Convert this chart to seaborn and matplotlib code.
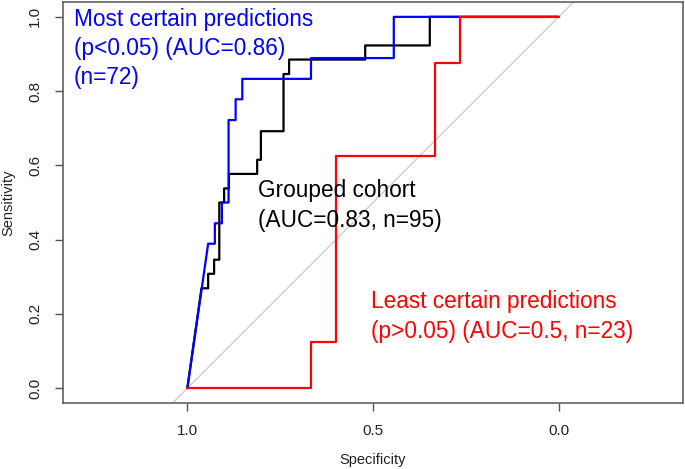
import pandas as pd
import matplotlib
matplotlib.use("Agg")
import matplotlib.pyplot as plt
import seaborn as sns

# ROC points (specificity, sensitivity)
grouped_spec = [1.0, 0.962, 0.944, 0.944, 0.928, 0.928, 0.914, 0.914, 0.901, 0.901,
                0.888, 0.888, 0.812, 0.812, 0.802, 0.802, 0.741, 0.741, 0.726, 0.726,
                0.521, 0.521, 0.347, 0.347, 0.0]
grouped_sens = [0.0, 0.269, 0.269, 0.308, 0.308, 0.346, 0.346, 0.5, 0.5, 0.538,
                0.538, 0.577, 0.577, 0.615, 0.615, 0.692, 0.692, 0.846, 0.846, 0.885,
                0.885, 0.923, 0.923, 1.0, 1.0]

most_spec = [1.0, 0.944, 0.926, 0.926, 0.907, 0.907, 0.889, 0.889, 0.870, 0.870,
             0.852, 0.852, 0.667, 0.667, 0.444, 0.444, 0.0]
most_sens = [0.0, 0.389, 0.389, 0.444, 0.444, 0.5, 0.5, 0.722, 0.722, 0.778,
             0.778, 0.833, 0.833, 0.889, 0.889, 1.0, 1.0]

least_spec = [1.0, 0.667, 0.667, 0.6, 0.6, 0.333, 0.333, 0.267, 0.267, 0.0]
least_sens = [0.0, 0.0, 0.125, 0.125, 0.625, 0.625, 0.875, 0.875, 1.0, 1.0]

curve_names = ["grouped", "most", "least"]
curve_colors = {"grouped": "black", "most": "blue", "least": "red"}
curve_labels = {
    "grouped": "Grouped cohort\n(AUC=0.83, n=95)",
    "most": "Most certain predictions\n(p<0.05) (AUC=0.86)\n(n=72)",
    "least": "Least certain predictions\n(p>0.05) (AUC=0.5, n=23)",
}

frames = []
for name, sp, se in [("grouped", grouped_spec, grouped_sens),
                     ("most", most_spec, most_sens),
                     ("least", least_spec, least_sens)]:
    frames.append(pd.DataFrame({"spec": sp, "sens": se, "curve": name}))
df = pd.concat(frames, ignore_index=True)

sns.set_style("ticks")
plt.rcParams["font.family"] = ["Liberation Sans", "DejaVu Sans"]

fig = plt.figure(figsize=(6.85, 4.69), dpi=100)
ax = fig.add_axes([63 / 685, 1 - 403 / 469, 620 / 685, 401 / 469])

ax.axline((1, 0), (0, 1), color="#c4c4c4", lw=0.8, zorder=1)

sns.lineplot(data=df, x="spec", y="sens", hue="curve", hue_order=curve_names,
             palette=curve_colors, sort=False, estimator=None, lw=1.6,
             legend=False, ax=ax, zorder=3)

ax.set_xlim(1.335, -0.335)
ax.set_ylim(-0.04, 1.04)
ax.set_xticks([1.0, 0.5, 0.0])
ax.set_xticklabels(["1.0", "0.5", "0.0"])
ax.set_yticks([0.0, 0.2, 0.4, 0.6, 0.8, 1.0])
ax.set_yticklabels(["0.0", "0.2", "0.4", "0.6", "0.8", "1.0"], rotation=90, va="center")

for side in ax.spines.values():
    side.set_color("#555555")
    side.set_linewidth(1.1)
ax.tick_params(axis="both", direction="out", length=6, width=1.0, color="#555555",
               labelsize=11, labelcolor="#222222", pad=9)

ax.set_xlabel("Specificity", fontsize=10.5, labelpad=11, color="#222222")
ax.set_ylabel("Sensitivity", fontsize=10.5, labelpad=9, color="#222222")

text_kw = dict(fontsize=16.3, ha="left", va="top", linespacing=1.35)
ax.text(1.306, 1.025, curve_labels["most"], color="blue", **text_kw)
ax.text(0.810, 0.562, curve_labels["grouped"], color="black", **text_kw)
ax.text(0.506, 0.263, curve_labels["least"], color="red", **text_kw)

fig.savefig("out.png", dpi=100)
